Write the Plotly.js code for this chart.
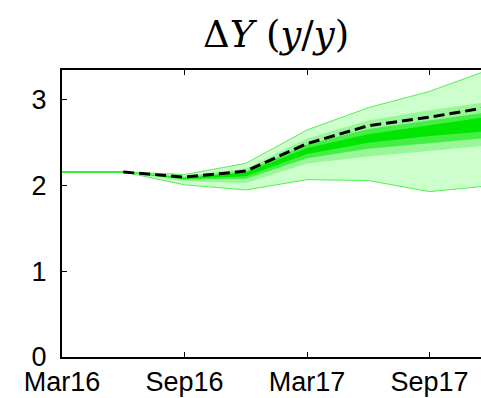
<!DOCTYPE html>
<html>
<head>
<meta charset="utf-8">
<script src="https://cdn.plot.ly/plotly-3.0.1.min.js"></script>
<style>html,body{margin:0;padding:0;background:#fff;overflow:hidden}#chart{width:481px;height:398px}</style>
</head>
<body>
<div id="chart"></div>
<script>
// quarter index: 0=Mar16, 1=Jun16, ... 7=Dec17
const tickPos = [0, 2, 4, 6];
const tickLabels = ["Mar16", "Sep16", "Mar17", "Sep17"];
const histX = [0, 1];
const histY = [2.16, 2.16];
const fcX = [1, 2, 3, 4, 5, 6, 7];
const meanY = [2.16, 2.10, 2.17, 2.49, 2.70, 2.80, 2.92];
const outerUp = [2.16, 2.13, 2.26, 2.65, 2.91, 3.10, 3.36];
const outerLo = [2.16, 2.01, 1.95, 2.07, 2.06, 1.93, 2.00];
const band2Up = [2.16, 2.11, 2.20, 2.55, 2.76, 2.88, 2.98];
const band2Lo = [2.16, 2.05, 2.03, 2.26, 2.34, 2.41, 2.47];
const band3Up = [2.16, 2.10, 2.17, 2.48, 2.66, 2.76, 2.86];
const band3Lo = [2.16, 2.07, 2.08, 2.32, 2.43, 2.50, 2.56];
const coreUp = [2.16, 2.09, 2.15, 2.44, 2.60, 2.71, 2.81];
const coreLo = [2.16, 2.08, 2.11, 2.37, 2.50, 2.58, 2.64];

const bands = [
  {lo: outerLo, up: outerUp, fill: "#ccffcc", line: "#55ee55", w: 1},
  {lo: band2Lo, up: band2Up, fill: "#99f799", line: "rgba(0,0,0,0)", w: 0},
  {lo: band3Lo, up: band3Up, fill: "#44ee44", line: "rgba(0,0,0,0)", w: 0},
  {lo: coreLo, up: coreUp, fill: "#00e600", line: "rgba(0,0,0,0)", w: 0}
];
const traces = [];
bands.forEach(b => {
  traces.push({x: fcX, y: b.lo, mode: "lines", line: {color: b.line, width: b.w}, hoverinfo: "skip", showlegend: false});
  traces.push({x: fcX, y: b.up, mode: "lines", fill: "tonexty", fillcolor: b.fill, line: {color: b.line, width: b.w}, hoverinfo: "skip", showlegend: false});
});
traces.push({x: histX, y: histY, mode: "lines", line: {color: "#33ee33", width: 2}, showlegend: false});
traces.push({x: fcX, y: meanY, mode: "lines", line: {color: "#000", width: 3, dash: "11px,5px"}, showlegend: false});

const tf = {family: "Liberation Sans, Arial, sans-serif", size: 27, color: "#000"};
const layout = {
  width: 481, height: 398,
  margin: {l: 62, r: 0, t: 70, b: 41},
  paper_bgcolor: "#fff", plot_bgcolor: "#fff",
  title: {text: "Δ<i>Y</i> (<i>y</i>/<i>y</i>)", font: {family: "DejaVu Serif, serif", size: 37, color: "#000"}, x: 0.574, xanchor: "center", y: 0.915, yanchor: "middle"},
  xaxis: {range: [0, 6.84], tickvals: tickPos, ticktext: tickLabels, ticks: "inside", ticklen: 5, tickcolor: "#000", tickwidth: 1,
    showline: true, linecolor: "#000", linewidth: 2, mirror: "ticks", showgrid: false, zeroline: false,
    tickfont: tf, ticklabelstandoff: 0},
  yaxis: {range: [0, 3.35], tickvals: [0, 1, 2, 3], ticks: "inside", ticklen: 5, tickcolor: "#000", tickwidth: 1,
    showline: true, linecolor: "#000", linewidth: 2, showgrid: false, zeroline: false,
    tickfont: tf, ticklabelstandoff: 8}
};
Plotly.newPlot("chart", traces, layout, {staticPlot: true, displayModeBar: false});
</script>
</body>
</html>
